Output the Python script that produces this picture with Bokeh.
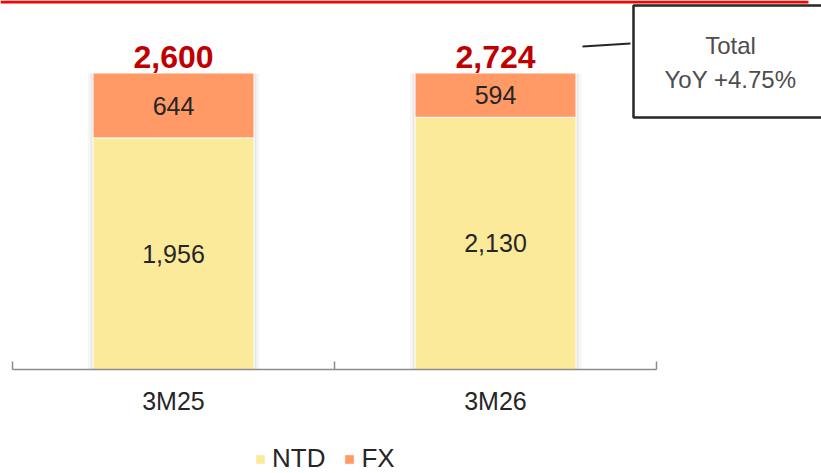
from bokeh.plotting import figure
from bokeh.models import (ColumnDataSource, Range1d, LinearAxis, FixedTicker, LabelSet, Label,
                          Legend, LegendItem, Arrow, BoxAnnotation)
from bokeh.core.properties import value
from bokeh.embed import file_html
from bokeh.resources import INLINE

# ---- data -------------------------------------------------------------
periods = ["3M25", "3M26"]
series_names = ["NTD", "FX"]
ntd = [1956, 2130]
fx = [644, 594]
totals = [2600, 2724]
callout_text = "Total\nYoY +4.75%"

# value-axis ceiling: the stacks are cut off at the top of the plot area
y_max = 2500

colors = ["#FCEA9B", "#FF9966"]
FONT = "Liberation Sans"
TEXT = "#262626"

# ---- page geometry (pixels) ------------------------------------------
W, H = 821, 473
AXIS_LEFT, AXIS_RIGHT = 12, 656      # extent of the category axis
AXIS_Y, PLOT_TOP = 369, 73           # baseline and ceiling of the bars

n_slots = len(periods)
kx = (AXIS_RIGHT - AXIS_LEFT) / n_slots          # px per slot
ky = (AXIS_Y - PLOT_TOP) / y_max                 # px per value unit


def dx(px):
    return (px - AXIS_LEFT) / kx


def dy(py):
    return (AXIS_Y - py) / ky


# one unit-wide slot per period, bars centred in their slot
slot_centre = [i + 0.5 for i in range(n_slots)]
slot_edges = list(range(n_slots + 1))

top_cap = [min(t, y_max) for t in totals]
src = ColumnDataSource(dict(
    x=slot_centre,
    period=periods,
    NTD=ntd,
    FX=fx,
    total=totals,
    top_cap=top_cap,
    ntd_mid=[n / 2 for n in ntd],
    fx_mid=[(n + c) / 2 for n, c in zip(ntd, top_cap)],
    ntd_lbl=[f"{v:,}" for v in ntd],
    fx_lbl=[f"{v:,}" for v in fx],
    total_lbl=[f"{v:,}" for v in totals],
))

p = figure(x_range=Range1d(dx(0), dx(W)), y_range=Range1d(dy(H), dy(0)),
           frame_width=W, frame_height=H, min_border=0,
           output_backend="svg", toolbar_location=None,
           x_axis_location=None, y_axis_location=None)
p.outline_line_color = None
p.xgrid.grid_line_color = None
p.ygrid.grid_line_color = None

# soft shadow behind each stack
p.vbar(x="x", top="total", width=0.532, source=src, fill_color="#000000",
       fill_alpha=0.035, line_color=None)
p.vbar(x="x", top="total", width=0.515, source=src, fill_color="#000000",
       fill_alpha=0.06, line_color=None)

stack = p.vbar_stack(series_names, x="x", width=0.5, source=src, color=colors,
                     line_color="white", line_width=1)

# plot-area ceiling: nothing of the bars shows above the axis maximum
p.add_layout(BoxAnnotation(bottom=y_max, fill_color="white", fill_alpha=1, line_color=None))

# axis line with boundary ticks between periods
edge_axis = LinearAxis(ticker=FixedTicker(ticks=slot_edges), fixed_location=0,
                       bounds=(0, n_slots),
                       axis_line_color="#8C8C8C", axis_line_width=1.5,
                       major_tick_line_color="#8C8C8C", major_tick_line_width=1.5,
                       major_tick_in=8, major_tick_out=0,
                       minor_tick_line_color=None,
                       major_label_text_font_size="0px", major_label_standoff=0,
                       major_label_overrides={e: "" for e in slot_edges})
p.add_layout(edge_axis, "below")

# period names under the slot centres
period_axis = LinearAxis(ticker=FixedTicker(ticks=slot_centre), fixed_location=0,
                         major_label_overrides=dict(zip(slot_centre, periods)),
                         axis_line_color=None, major_tick_line_color=None,
                         major_tick_in=0, major_tick_out=0,
                         minor_tick_line_color=None,
                         major_label_text_font=FONT, major_label_text_font_size="25px",
                         major_label_text_color=TEXT, major_label_standoff=17)
p.add_layout(period_axis, "below")

# value labels
common = dict(source=src, text_align="center", text_font=value(FONT), text_color=TEXT,
              text_font_size="25px", text_baseline="middle")
p.add_layout(LabelSet(x="x", y="ntd_mid", text="ntd_lbl", **common))
p.add_layout(LabelSet(x="x", y="fx_mid", text="fx_lbl", **common))
p.add_layout(LabelSet(x="x", y="top_cap", text="total_lbl", source=src,
                      text_align="center", text_baseline="alphabetic", y_offset=6,
                      text_font=value(FONT), text_font_style="bold", text_font_size="32px",
                      text_color="#C00000"))

# red rule across the top of the page
p.add_layout(BoxAnnotation(right=dx(808), bottom=dy(3), fill_color="#FF0000",
                           fill_alpha=1, line_color=None))

# callout with leader line
p.add_layout(Arrow(start=None, end=None,
                   x_start=dx(582), y_start=dy(46), x_end=dx(630), y_end=dy(43),
                   line_color="#262626", line_width=2))
p.add_layout(BoxAnnotation(left=dx(633), right=dx(W + 20), top=dy(5), bottom=dy(117),
                           fill_color="white", fill_alpha=1,
                           line_color="#262626", line_alpha=1, line_width=2.5))
p.add_layout(Label(x=dx(730), y=dy(62), text=callout_text,
                   text_align="center", text_baseline="middle",
                   text_font=FONT, text_font_size="24px", text_color="#4D4D4D",
                   text_line_height=1.25))

legend = Legend(items=[LegendItem(label=n, renderers=[r]) for n, r in zip(series_names, stack)],
                orientation="horizontal", location=(254, -1),
                label_text_font=FONT, label_text_font_size="26px", label_text_color=TEXT,
                glyph_width=12, glyph_height=12, label_standoff=6, spacing=18,
                padding=0, margin=0, border_line_color=None, background_fill_alpha=0)
p.add_layout(legend, "center")

open("out.html", "w").write(file_html(p, INLINE))
